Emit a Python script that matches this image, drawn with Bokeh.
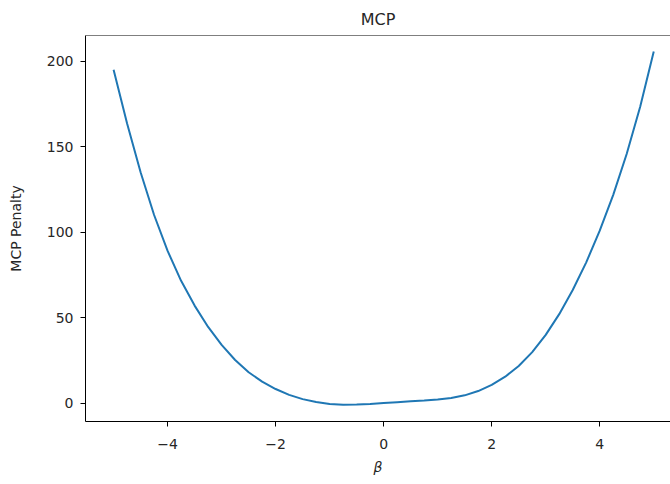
from bokeh.plotting import figure
from bokeh.models import Range1d, Span, FixedTicker
from bokeh.embed import file_html
from bokeh.resources import INLINE

# Penalty curve sampled on beta in [-5, 5]
beta = [-5.0, -4.75, -4.5, -4.25, -4.0, -3.75, -3.5, -3.25, -3.0, -2.75,
        -2.5, -2.25, -2.0, -1.75, -1.5, -1.25, -1.0, -0.75, -0.5, -0.25,
        0.0, 0.25, 0.5, 0.75, 1.0, 1.25, 1.5, 1.75, 2.0, 2.25,
        2.5, 2.75, 3.0, 3.25, 3.5, 3.75, 4.0, 4.25, 4.5, 4.75, 5.0]
penalty = [195.0, 163.5, 135.0, 110.0, 89.0, 71.5, 57.0, 44.5, 34.0, 25.2,
           18.0, 12.5, 8.2, 4.8, 2.3, 0.6, -0.6, -1.0, -0.9, -0.5,
           0.0, 0.5, 1.0, 1.5, 2.1, 3.0, 4.5, 7.0, 10.6, 15.4,
           21.7, 29.8, 39.9, 52.0, 66.1, 82.3, 100.8, 121.8, 145.8, 173.5, 205.6]

x_ticks = [-4, -2, 0, 2, 4]
x_tick_labels = ["\u22124", "\u22122", "0", "2", "4"]
y_ticks = [0, 50, 100, 150, 200]

text_color = "#262626"
font = "DejaVu Sans"

p = figure(width=670, height=484, output_backend="svg", toolbar_location=None,
           x_range=Range1d(-5.52, 5.31), y_range=Range1d(-10.8, 215.0),
           title="MCP", min_border_left=85, min_border_top=34,
           min_border_bottom=63, min_border_right=0)

p.line(beta, penalty, line_color="#1f77b4", line_width=2)

p.outline_line_color = None
p.grid.visible = False
p.background_fill_color = "white"
p.border_fill_color = "white"

# top spine
p.add_layout(Span(location=215.0, dimension="width", line_color="black", line_width=1))

p.title.text_font = font
p.title.text_font_size = "16px"
p.title.text_font_style = "normal"
p.title.text_color = text_color
p.title.align = "center"
p.title.standoff = 14

p.xaxis.ticker = FixedTicker(ticks=x_ticks)
p.xaxis.major_label_overrides = {t: s for t, s in zip(x_ticks, x_tick_labels)}
p.yaxis.ticker = FixedTicker(ticks=y_ticks)

p.xaxis.axis_label = "\u03b2"
p.xaxis.axis_label_text_font_style = "italic"
p.yaxis.axis_label = "MCP Penalty"
p.yaxis.axis_label_text_font_style = "normal"

for ax in (p.xaxis[0], p.yaxis[0]):
    ax.axis_line_color = "black"
    ax.axis_line_width = 1
    ax.major_tick_line_color = "black"
    ax.major_tick_out = 5
    ax.major_tick_in = 0
    ax.minor_tick_line_color = None
    ax.major_label_text_font = font
    ax.major_label_text_font_size = "14px"
    ax.major_label_text_color = text_color
    ax.axis_label_text_font = font
    ax.axis_label_text_font_size = "14px"
    ax.axis_label_text_color = text_color

p.xaxis.major_label_standoff = 12
p.xaxis.axis_label_standoff = 7
p.yaxis.major_label_standoff = 7
p.yaxis.axis_label_standoff = 20

open("out.html", "w").write(file_html(p, INLINE))
